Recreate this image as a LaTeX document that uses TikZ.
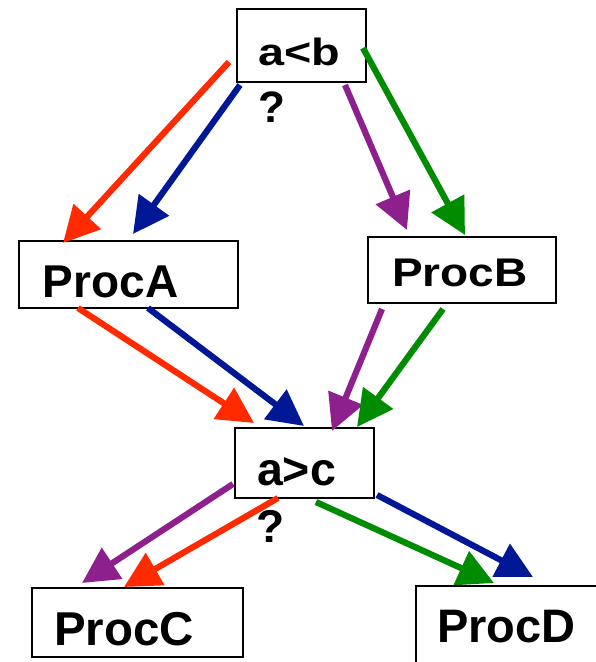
\documentclass[tikz,border=0pt]{standalone}
\usepackage{fontspec}
\setmainfont{Liberation Sans}
\usetikzlibrary{arrows.meta}
\definecolor{cred}{RGB}{255,42,0}
\definecolor{cblue}{RGB}{0,24,150}
\definecolor{cpurple}{RGB}{142,32,142}
\definecolor{cgreen}{RGB}{0,140,0}
\begin{document}
\begin{tikzpicture}[x=1pt,y=-1pt,
  box/.style={draw=black, line width=1.8pt, rectangle, inner sep=0pt},
  lbl/.style={anchor=base, inner sep=0pt, font=\bfseries},
  flow/.style={line width=6.2pt, -{Triangle[length=36pt,width=36pt]}},
]
\useasboundingbox (0,0) rectangle (595,662);
\fill[white] (0,0) rectangle (595,662);
% boxes
\node[box, minimum width=129pt, minimum height=73pt] (ab) at (301.5,45.5) {};
\node[box, minimum width=219pt, minimum height=67pt] (pa) at (128.5,274.5) {};
\node[box, minimum width=188pt, minimum height=66pt] (pb) at (462,270) {};
\node[box, minimum width=139pt, minimum height=70pt] (ac) at (304.5,463) {};
\node[box, minimum width=211pt, minimum height=69pt] (pc) at (137.5,622.5) {};
\node[box, minimum width=194pt, minimum height=90pt] (pd) at (513,631) {};
% labels
\node[lbl] (tab) at (299,65) {\fontsize{38}{40}\selectfont\scalebox{1.23}[1]{a<b}};
\node[lbl] (q1) at (271.5,122) {\fontsize{44}{46}\selectfont ?};
\node[lbl] (tpa) at (110.5,297) {\fontsize{46}{48}\selectfont ProcA};
\node[lbl] (tpb) at (460,286) {\fontsize{40}{42}\selectfont\scalebox{1.15}[1]{ProcB}};
\node[lbl] (tac) at (296.5,485) {\fontsize{46.5}{48}\selectfont a>c};
\node[lbl] (q2) at (270.5,542) {\fontsize{46}{48}\selectfont ?};
\node[lbl] (tpc) at (124,645) {\fontsize{47.5}{50}\selectfont ProcC};
\node[lbl] (tpd) at (506.5,642) {\fontsize{47}{50}\selectfont ProcD};
% arrow end points
\coordinate (a1s) at (229,62);  \coordinate (a1e) at (63,243);
\coordinate (a2s) at (240,85);  \coordinate (a2e) at (133,234);
\coordinate (a3s) at (345,85);  \coordinate (a3e) at (407,230);
\coordinate (a4s) at (363,48);  \coordinate (a4e) at (465,235);
\coordinate (a5s) at (78,308);  \coordinate (a5e) at (254,423);
\coordinate (a6s) at (148,308); \coordinate (a6e) at (304,426);
\coordinate (a7s) at (382,309); \coordinate (a7e) at (332,431);
\coordinate (a8s) at (443,309); \coordinate (a8e) at (357,427);
\coordinate (a9s) at (233,484); \coordinate (a9e) at (82,583);
\coordinate (a10s) at (278,498); \coordinate (a10e) at (124,587);
\coordinate (a11s) at (316,502); \coordinate (a11e) at (494,583);
\coordinate (a12s) at (377,495); \coordinate (a12e) at (533,577);
% arrows
\draw[flow, cred] (a1s) -- (a1e);
\draw[flow, cblue] (a2s) -- (a2e);
\draw[flow, cpurple] (a3s) -- (a3e);
\draw[flow, cgreen] (a4s) -- (a4e);
\draw[flow, cred] (a5s) -- (a5e);
\draw[flow, cblue] (a6s) -- (a6e);
\draw[flow, cpurple] (a7s) -- (a7e);
\draw[flow, cgreen] (a8s) -- (a8e);
\draw[flow, cpurple] (a9s) -- (a9e);
\draw[flow, cred] (a10s) -- (a10e);
\draw[flow, cgreen] (a11s) -- (a11e);
\draw[flow, cblue] (a12s) -- (a12e);
\end{tikzpicture}
\end{document}
